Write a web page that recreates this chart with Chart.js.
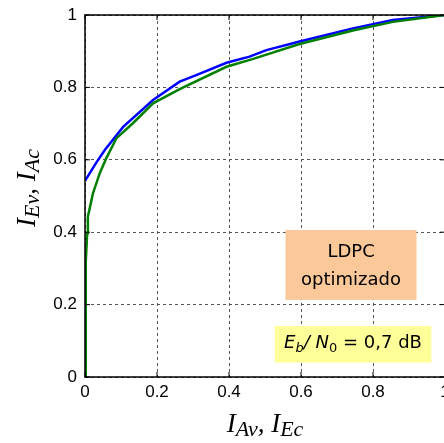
<!DOCTYPE html>
<html>
<head>
<meta charset="utf-8">
<script src="https://cdn.jsdelivr.net/npm/chart.js@4.4.0/dist/chart.umd.min.js"></script>
<style>
  html, body { margin: 0; padding: 0; background: #fff; overflow: hidden; }
</style>
</head>
<body>
<canvas id="chart" width="450" height="443"></canvas>
<script>
// blue curve (I_Ev vs I_Av)
const blueX = [0, 0.03, 0.055, 0.106, 0.189, 0.263, 0.309, 0.393, 0.457, 0.504, 0.596, 0.744, 0.855, 1.0];
const blueY = [0.542, 0.59, 0.627, 0.691, 0.765, 0.816, 0.834, 0.868, 0.885, 0.903, 0.927, 0.963, 0.986, 1.0];

// green curve (I_Ac vs I_Ec)
const greenX = [0, 0.002, 0.006, 0.008, 0.022, 0.041, 0.059, 0.087, 0.133, 0.189, 0.263, 0.393, 0.465, 0.596, 0.744, 0.855, 1.0];
const greenY = [0, 0.314, 0.397, 0.443, 0.507, 0.563, 0.604, 0.659, 0.701, 0.756, 0.795, 0.857, 0.878, 0.920, 0.957, 0.981, 1.0];

const tickValues = [0, 0.2, 0.4, 0.6, 0.8, 1];

function toPoints(xs, ys) {
    return xs.map((x, i) => ({ x: x, y: ys[i] }));
}

// draw a run of text pieces (some as subscripts), starting at x
function drawRich(ctx, pieces, x, y) {
    let cx = x;
    pieces.forEach(p => {
        ctx.font = p.font;
        ctx.fillText(p.text, cx, y + (p.dy || 0));
        cx += ctx.measureText(p.text).width;
    });
}

function richWidth(ctx, pieces) {
    let w = 0;
    pieces.forEach(p => {
        ctx.font = p.font;
        w += ctx.measureText(p.text).width;
    });
    return w;
}

const big = 'italic 27px "Liberation Serif", "DejaVu Serif", serif';
const small = 'italic 22px "Liberation Serif", "DejaVu Serif", serif';
const yTitle = [
    { text: 'I', font: big }, { text: 'Ev', font: small, dy: 4 },
    { text: ', ', font: big }, { text: 'I', font: big }, { text: 'Ac', font: small, dy: 4 }
];
const xTitle = [
    { text: 'I', font: big }, { text: 'Av', font: small, dy: 4 },
    { text: ', ', font: big }, { text: 'I', font: big }, { text: 'Ec', font: small, dy: 4 }
];

const boxFont = '18px "DejaVu Sans", sans-serif';
const boxFontIt = 'italic 18px "DejaVu Sans", sans-serif';
const boxFontSub = 'italic 13px "DejaVu Sans", sans-serif';
const boxFontSubR = '13px "DejaVu Sans", sans-serif';
const ebText = [
    { text: 'E', font: boxFontIt }, { text: 'b', font: boxFontSub, dy: 4 },
    { text: '/ ', font: boxFontIt }, { text: 'N', font: boxFontIt }, { text: '0', font: boxFontSubR, dy: 4 },
    { text: ' = 0,7 dB', font: boxFont }
];

const extras = {
    id: 'extras',
    afterDraw(chart) {
        const ctx = chart.ctx;
        const a = chart.chartArea;
        const xs = chart.scales.x, ys = chart.scales.y;
        ctx.save();

        // LDPC box
        let l = xs.getPixelForValue(0.557), r = xs.getPixelForValue(0.921);
        let t = ys.getPixelForValue(0.406), b = ys.getPixelForValue(0.213);
        ctx.fillStyle = '#fbc89a';
        ctx.fillRect(l, t, r - l, b - t);
        ctx.fillStyle = '#000';
        ctx.font = boxFont;
        ctx.textAlign = 'center';
        ctx.textBaseline = 'alphabetic';
        ctx.fillText('LDPC', (l + r) / 2, t + 27);
        ctx.fillText('optimizado', (l + r) / 2, t + 55);

        // Eb/N0 box
        l = xs.getPixelForValue(0.527); r = xs.getPixelForValue(0.962);
        t = ys.getPixelForValue(0.141); b = ys.getPixelForValue(0.040);
        ctx.fillStyle = '#ffff99';
        ctx.fillRect(l, t, r - l, b - t);
        ctx.fillStyle = '#000';
        ctx.textAlign = 'left';
        const w = richWidth(ctx, ebText);
        drawRich(ctx, ebText, (l + r) / 2 - w / 2, t + 22);

        // inner ticks
        ctx.strokeStyle = '#000';
        ctx.lineWidth = 1;
        ctx.setLineDash([]);
        tickValues.forEach(v => {
            const px = xs.getPixelForValue(v), py = ys.getPixelForValue(v);
            ctx.beginPath();
            ctx.moveTo(px, a.bottom); ctx.lineTo(px, a.bottom - 5);
            ctx.moveTo(px, a.top); ctx.lineTo(px, a.top + 5);
            ctx.moveTo(a.left, py); ctx.lineTo(a.left + 5, py);
            ctx.moveTo(a.right, py); ctx.lineTo(a.right - 5, py);
            ctx.stroke();
        });

        // frame
        ctx.lineWidth = 1.5;
        ctx.strokeRect(a.left, a.top, a.right - a.left, a.bottom - a.top);

        // axis titles
        ctx.fillStyle = '#000';
        ctx.textAlign = 'left';
        ctx.textBaseline = 'alphabetic';
        const xw = richWidth(ctx, xTitle);
        drawRich(ctx, xTitle, 265 - xw / 2, 432);

        ctx.translate(35, 188);
        ctx.rotate(-Math.PI / 2);
        const yw = richWidth(ctx, yTitle);
        drawRich(ctx, yTitle, -yw / 2, 0);

        ctx.restore();
    }
};

const tickFont = { family: '"Liberation Sans", Arial, sans-serif', size: 17 };

new Chart(document.getElementById('chart'), {
    type: 'line',
    data: {
        datasets: [{
            label: 'green',
            data: toPoints(greenX, greenY),
            borderColor: '#008000',
            borderWidth: 2.5,
            pointRadius: 0,
            tension: 0,
            fill: false
        }, {
            label: 'blue',
            data: toPoints(blueX, blueY),
            borderColor: '#0000ff',
            borderWidth: 2.5,
            pointRadius: 0,
            tension: 0,
            fill: false
        }]
    },
    options: {
        responsive: false,
        animation: false,
        layout: { padding: { top: 15, right: 5, left: 0, bottom: 0 } },
        plugins: { legend: { display: false }, tooltip: { enabled: false } },
        scales: {
            x: {
                type: 'linear',
                min: 0,
                max: 1,
                afterBuildTicks: s => { s.ticks = tickValues.map(v => ({ value: v })); },
                afterFit: s => { s.height = 66; s.paddingLeft = 0; s.paddingRight = 0; },
                ticks: {
                    autoSkip: false,
                    maxRotation: 0,
                    padding: 5,
                    color: '#000',
                    font: tickFont,
                    callback: v => String(v)
                },
                grid: { color: '#555', lineWidth: 1, drawTicks: false },
                border: { display: false, dash: [3, 3] }
            },
            y: {
                type: 'linear',
                min: 0,
                max: 1,
                afterBuildTicks: s => { s.ticks = tickValues.map(v => ({ value: v })); },
                afterFit: s => { s.width = 85; s.paddingTop = 0; s.paddingBottom = 0; },
                ticks: {
                    autoSkip: false,
                    padding: 8,
                    color: '#000',
                    font: tickFont,
                    callback: v => String(v)
                },
                grid: { color: '#555', lineWidth: 1, drawTicks: false },
                border: { display: false, dash: [3, 3] }
            }
        }
    },
    plugins: [extras]
});
</script>
</body>
</html>
